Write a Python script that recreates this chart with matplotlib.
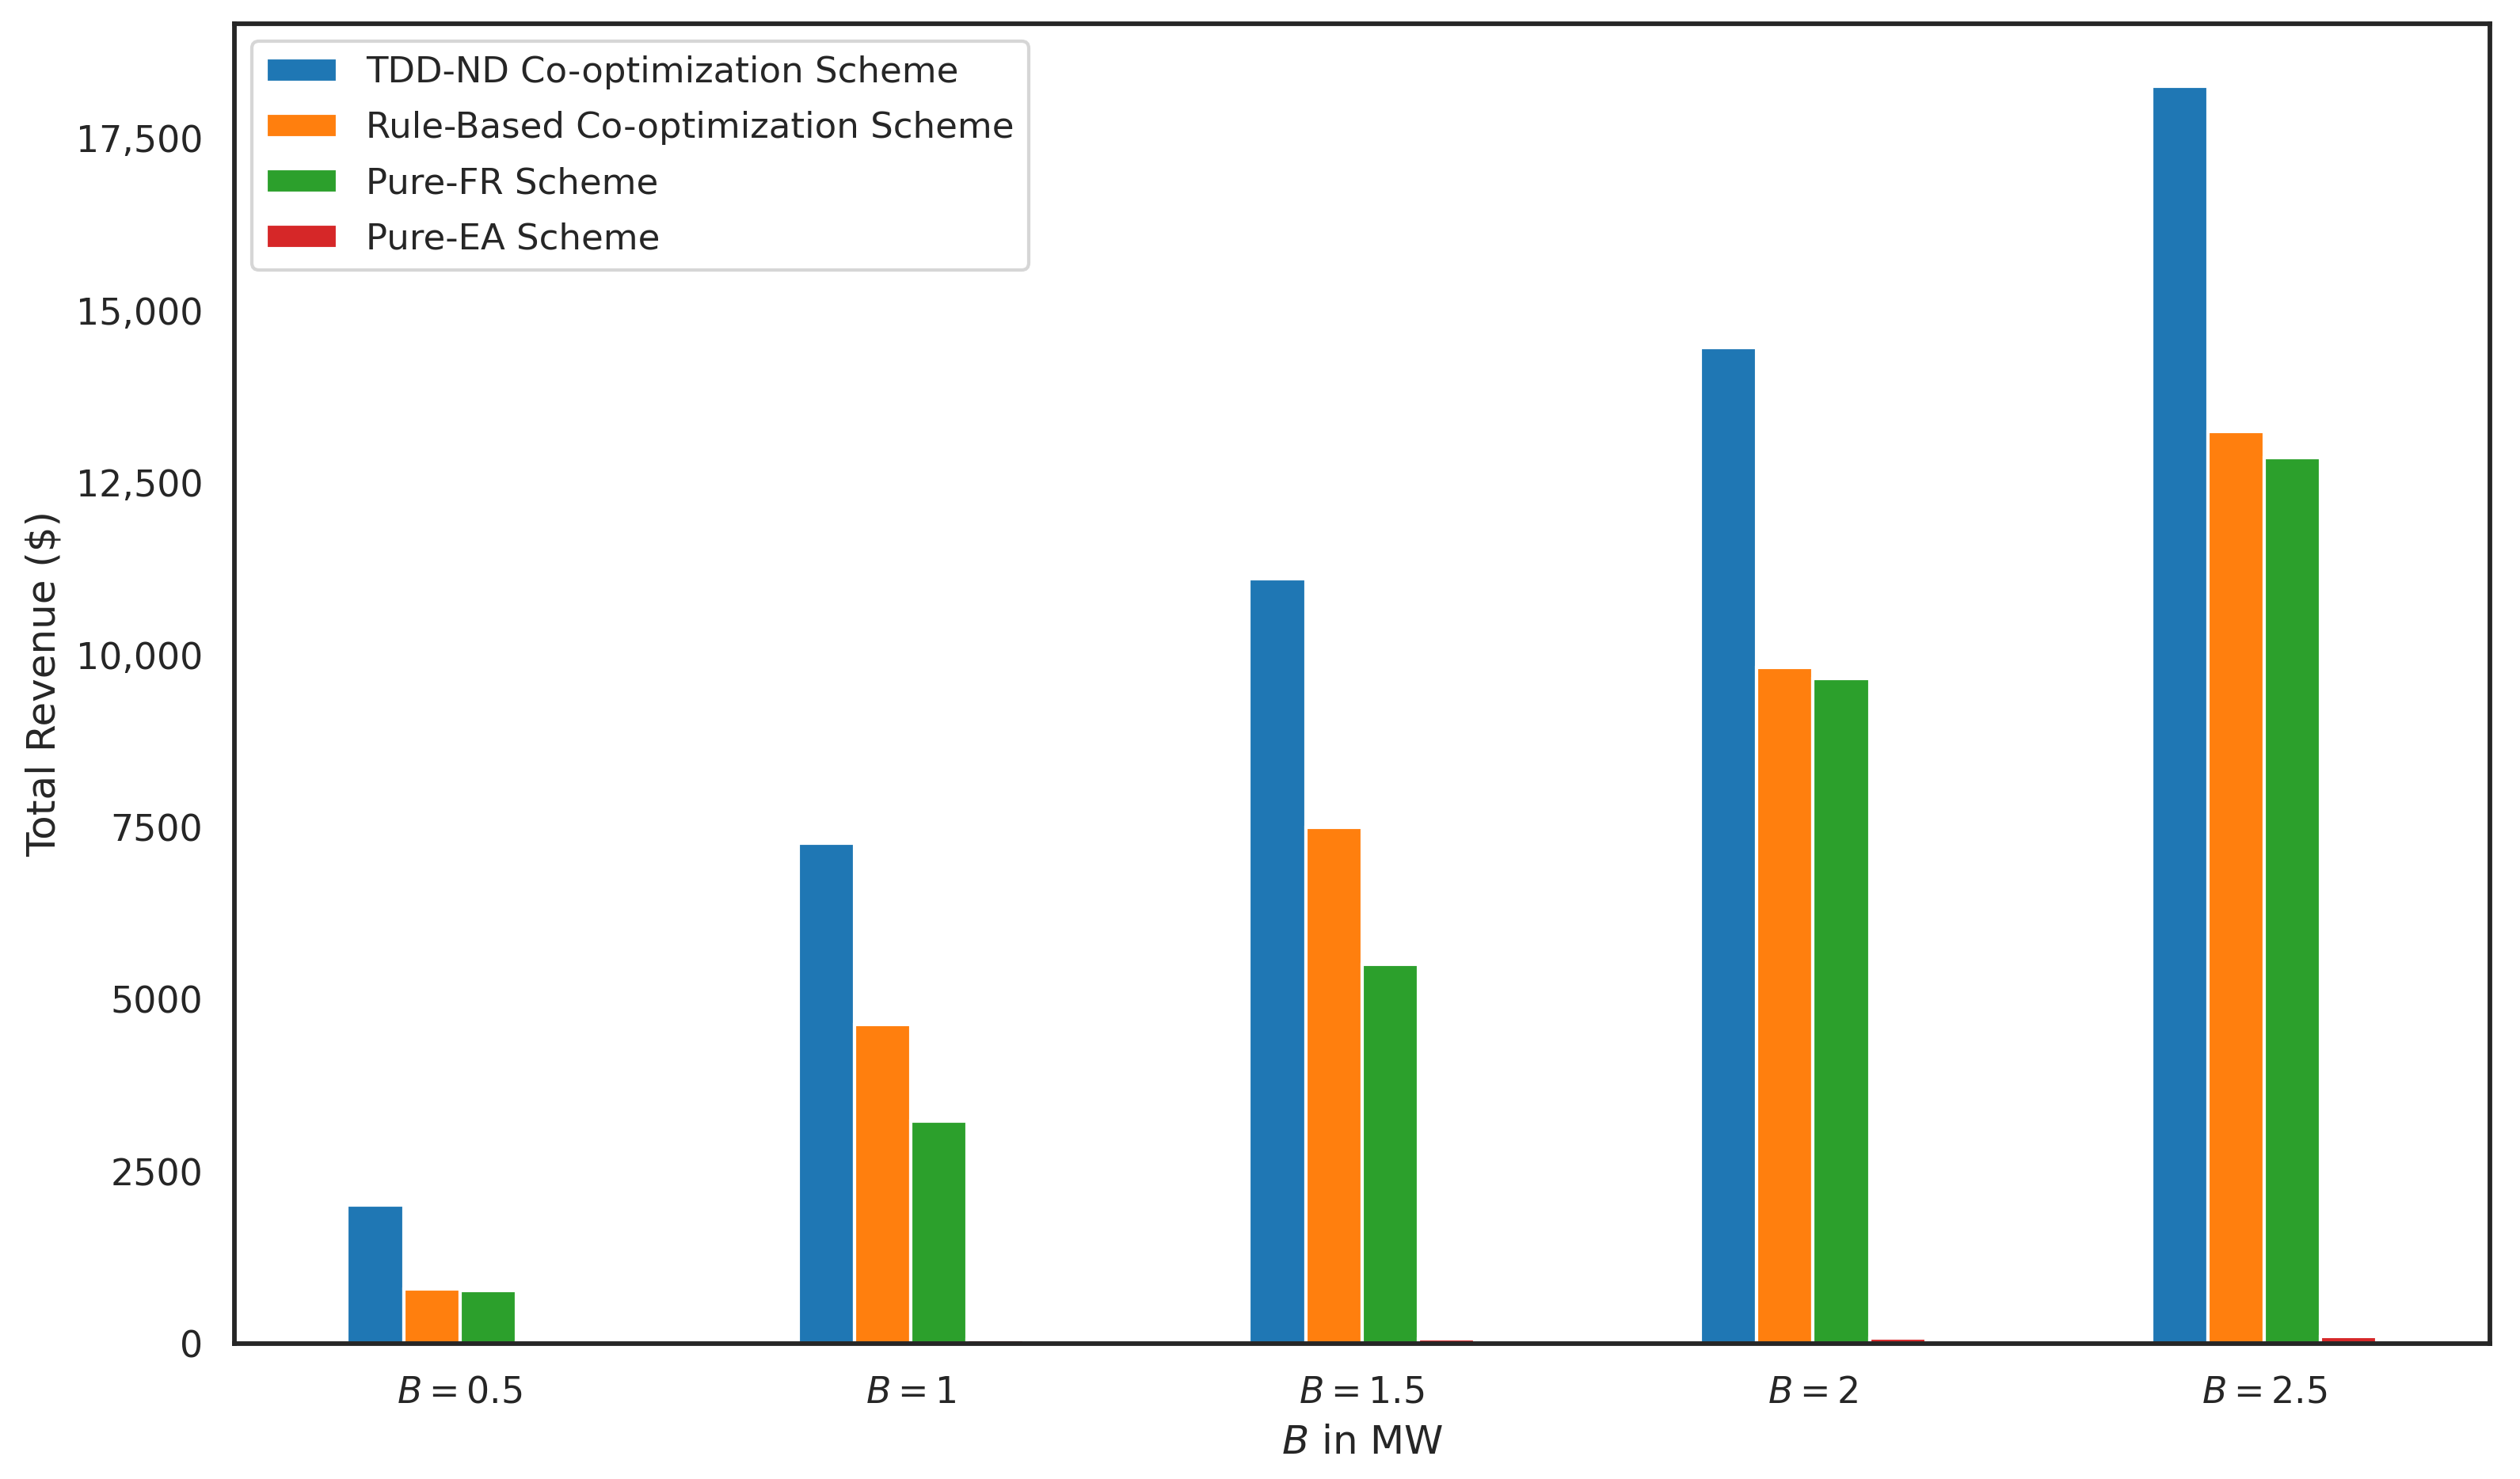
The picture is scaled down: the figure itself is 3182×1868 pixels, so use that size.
import numpy as np
import matplotlib
matplotlib.use("Agg")
import matplotlib.pyplot as plt
from matplotlib.ticker import FuncFormatter
import seaborn as sns

# Battery capacity cases and revenue per scheme
capacities = ["0.5", "1", "1.5", "2", "2.5"]
schemes = ["TDD-ND Co-optimization Scheme",
           "Rule-Based Co-optimization Scheme",
           "Pure-FR Scheme",
           "Pure-EA Scheme"]
tdd_nd = [2015, 7263, 11106, 14457, 18253]
rule_based = [797, 4639, 7498, 9817, 13239]
pure_fr = [773, 3233, 5506, 9653, 12866]
pure_ea = [25, 60, 72, 85, 110]


def thousands(x, pos):
    # only put a comma in the five digit numbers
    if x >= 10000:
        return f"{int(x):,}"
    return f"{int(x)}"


def main():
    sns.set_style("white")
    sns.set_context("notebook")

    fig, ax = plt.subplots(figsize=(3182 / 300, 1868 / 300), dpi=300)

    series = [tdd_nd, rule_based, pure_fr, pure_ea]
    colors = ["tab:blue", "tab:orange", "tab:green", "tab:red"]
    x = np.arange(len(capacities))
    width = 0.5 / len(series)

    for i, (vals, name) in enumerate(zip(series, schemes)):
        offset = (i - (len(series) - 1) / 2) * width
        ax.bar(x + offset, vals, width, label=name, color=colors[i],
               edgecolor="white", linewidth=1)

    ax.set_xlim(-0.5, len(capacities) - 0.5)
    ax.set_xticks(x)
    ax.set_xticklabels([f"$B = {c}$" for c in capacities], rotation=0)
    ax.yaxis.set_major_formatter(FuncFormatter(thousands))

    ax.set_xlabel("$B$ in MW")
    ax.set_ylabel("Total Revenue ($)")
    ax.legend(loc="upper left", fontsize=10.8, labelspacing=0.6)

    for spine in ax.spines.values():
        spine.set_linewidth(1.4)

    fig.subplots_adjust(left=0.093, right=0.988, bottom=0.0915, top=0.984)
    fig.savefig("out.png", dpi=300)


if __name__ == '__main__':
    main()
